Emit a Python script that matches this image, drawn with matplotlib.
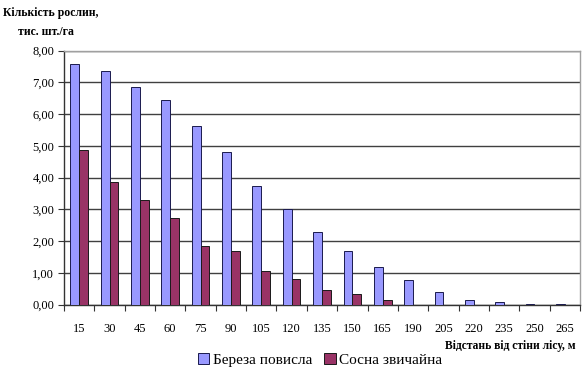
import matplotlib
matplotlib.use("Agg")
import matplotlib.pyplot as plt
import numpy as np
from matplotlib.ticker import FixedLocator

distances = ["15", "30", "45", "60", "75", "90", "105", "120", "135", "150",
             "165", "190", "205", "220", "235", "250", "265"]
birch = [7.59, 7.36, 6.86, 6.44, 5.62, 4.80, 3.75, 3.01, 2.29, 1.68,
         1.18, 0.79, 0.39, 0.14, 0.07, 0.02, 0.02]
pine = [4.86, 3.85, 3.30, 2.73, 1.84, 1.69, 1.06, 0.82, 0.47, 0.33,
        0.16, 0.0, 0.0, 0.0, 0.0, 0.0, 0.0]
series_names = ["Береза повисла", "Сосна звичайна"]
yticks = [0, 1, 2, 3, 4, 5, 6, 7, 8]

plt.rcParams['font.family'] = ['Liberation Serif', 'DejaVu Serif']

fig = plt.figure(figsize=(5.84, 3.70), dpi=100)
ax = fig.add_axes([64/584, 1-304.7/370, (580-64)/584, (304.7-50.5)/370])

x = np.arange(len(distances))
w = 0.29
ax.bar(x - w/2, birch, w, color="#9999FF", edgecolor="#1a1a4d", linewidth=0.7,
       label=series_names[0], zorder=3)
ax.bar(x + w/2, pine, w, color="#993366", edgecolor="#1a1a1a", linewidth=0.7,
       label=series_names[1], zorder=3)

ax.set_xlim(-0.5, len(distances) - 0.5)
ax.set_ylim(0, 8)
ax.set_yticks(yticks)
ax.set_yticklabels([f"{v:.2f}".replace(".", ",") for v in yticks], fontsize=9)
ax.yaxis.grid(True, color="#404040", linewidth=1.0, zorder=0)
ax.set_axisbelow(True)

ax.set_xticks(x)
ax.set_xticklabels(distances, fontsize=9)
ax.xaxis.set_minor_locator(FixedLocator(np.arange(-0.5, len(distances), 1.0)))
ax.tick_params(axis='x', which='major', length=0, pad=13.5)
ax.tick_params(axis='x', which='minor', length=4, width=0.8, direction='out', color='#333333')
ax.tick_params(axis='y', length=4, width=0.8, direction='out', pad=3, color='#333333')

for s in ['left', 'bottom']:
    ax.spines[s].set_color('#333333')
    ax.spines[s].set_linewidth(1.0)
for s in ['top', 'right']:
    ax.spines[s].set_color('#a0a0a0')
    ax.spines[s].set_linewidth(1.0)

fig.text(3/584, 1-13/370, "Кількість рослин,", fontsize=8.5, fontweight='bold',
         ha='left', va='center')
fig.text(18/584, 1-32/370, "тис. шт./га", fontsize=8.5, fontweight='bold',
         ha='left', va='center')
fig.text(576/584, 1-346/370, "Відстань від стіни лісу, м", fontsize=8.3,
         fontweight='bold', ha='right', va='center')

leg = fig.legend(loc='center left', bbox_to_anchor=(198/584, 1-360/370), ncol=2,
                 frameon=False, fontsize=11, handlelength=0.75, handleheight=0.75,
                 handletextpad=0.2, columnspacing=0.8, borderaxespad=0, borderpad=0)

fig.savefig("out.png", dpi=100)
